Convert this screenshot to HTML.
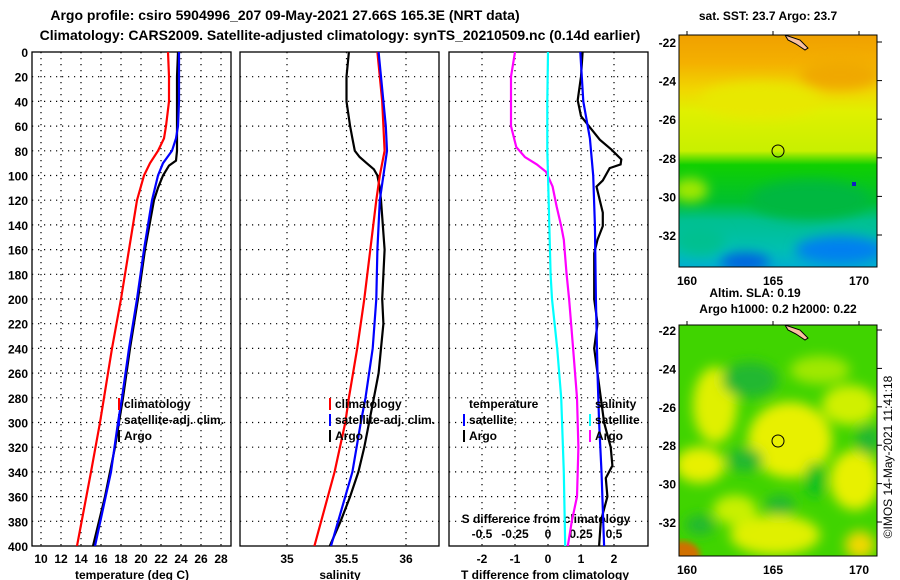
<!DOCTYPE html>
<html><head><meta charset="utf-8"><style>
html,body{margin:0;padding:0;background:#fff}
svg{display:block;font-family:"Liberation Sans",sans-serif;font-weight:bold}
</style></head><body>
<svg id="chart" width="900" height="580" viewBox="0 0 900 580">
<defs>
<filter id="blur4" x="-20%" y="-20%" width="140%" height="140%"><feGaussianBlur stdDeviation="6"/></filter>
<filter id="blur2"><feGaussianBlur stdDeviation="3"/></filter>
<linearGradient id="sstGrad" x1="0" y1="0" x2="0" y2="1">
<stop offset="0" stop-color="#f0a000"/><stop offset="0.12" stop-color="#f4b000"/>
<stop offset="0.24" stop-color="#f0d800"/><stop offset="0.33" stop-color="#e0f000"/>
<stop offset="0.50" stop-color="#c8f000"/><stop offset="0.56" stop-color="#10d000"/>
<stop offset="0.72" stop-color="#00c030"/><stop offset="0.80" stop-color="#00c090"/>
<stop offset="0.92" stop-color="#00c0b0"/><stop offset="1" stop-color="#00b0d0"/>
</linearGradient>
<clipPath id="clipMap1"><rect x="679" y="35" width="198" height="232"/></clipPath>
<clipPath id="clipMap2"><rect x="679" y="325" width="198" height="231"/></clipPath>
<clipPath id="clipP1"><rect x="32" y="52" width="199" height="494"/></clipPath>
<clipPath id="clipP2"><rect x="240" y="52" width="199" height="494"/></clipPath>
<clipPath id="clipP3"><rect x="449" y="52" width="199" height="494"/></clipPath>
</defs>
<text x="285" y="20" font-size="14" text-anchor="middle">Argo profile: csiro 5904996_207 09-May-2021 27.66S 165.3E (NRT data)</text>
<text x="340" y="40" font-size="14" text-anchor="middle">Climatology: CARS2009. Satellite-adjusted climatology: synTS_20210509.nc (0.14d earlier)</text>
<g id="grids"></g>
<g id="axes"></g>
<g id="series"></g>
<g id="legends" font-size="12"></g>

<!-- map 1 -->
<g>
<g clip-path="url(#clipMap1)">
<rect x="679" y="35" width="198" height="232" fill="url(#sstGrad)"/>
<g filter="url(#blur4)">
<ellipse cx="690" cy="190" rx="18" ry="12" fill="#a0e800"/>
<ellipse cx="760" cy="100" rx="60" ry="18" fill="#e8e800"/>
<ellipse cx="840" cy="75" rx="40" ry="15" fill="#f0a800"/>
<ellipse cx="810" cy="200" rx="60" ry="20" fill="#00b840"/>
<ellipse cx="840" cy="250" rx="45" ry="14" fill="#0080f0"/>
<ellipse cx="745" cy="262" rx="25" ry="9" fill="#0060e0"/>
<ellipse cx="700" cy="240" rx="25" ry="15" fill="#00c090"/>
</g>
<rect x="852" y="182" width="4" height="4" fill="#1020c0"/>
<path d="M785,35 L800,40 L808,48 L805,50 L796,44 L788,40Z" fill="#f8c0a0" stroke="#000" stroke-width="1"/>
</g>
<rect x="679" y="35" width="198" height="232" fill="none" stroke="#000"/>
<circle cx="778" cy="151" r="6" fill="none" stroke="#000"/>
<text x="768" y="20" font-size="12" text-anchor="middle">sat. SST: 23.7 Argo: 23.7</text>
</g>
<!-- map 2 -->
<g>
<g clip-path="url(#clipMap2)">
<rect x="679" y="325" width="198" height="231" fill="#40d400"/>
<g filter="url(#blur4)">
<ellipse cx="715" cy="405" rx="22" ry="38" fill="#e0f000"/>
<ellipse cx="790" cy="440" rx="42" ry="38" fill="#e8f000"/>
<ellipse cx="700" cy="465" rx="25" ry="18" fill="#e8f000"/>
<ellipse cx="855" cy="480" rx="25" ry="30" fill="#e8f000"/>
<ellipse cx="775" cy="535" rx="45" ry="20" fill="#e0f000"/>
<ellipse cx="850" cy="405" rx="28" ry="20" fill="#d0f000"/>
<ellipse cx="735" cy="510" rx="22" ry="15" fill="#c8f000"/>
<ellipse cx="860" cy="545" rx="15" ry="14" fill="#f0d800"/>
<ellipse cx="820" cy="370" rx="30" ry="14" fill="#a0e800"/>
<ellipse cx="750" cy="380" rx="28" ry="18" fill="#20b830"/>
<ellipse cx="745" cy="460" rx="18" ry="12" fill="#20b830"/>
<ellipse cx="815" cy="480" rx="10" ry="18" fill="#10c020"/>
<ellipse cx="868" cy="440" rx="12" ry="15" fill="#20b830"/>
<ellipse cx="780" cy="505" rx="15" ry="10" fill="#20b830"/>
<ellipse cx="700" cy="525" rx="15" ry="10" fill="#20b830"/>
</g>
<ellipse cx="682" cy="555" rx="18" ry="14" fill="#d07000" filter="url(#blur2)"/>
<path d="M785,325 L800,330 L808,338 L805,340 L796,334 L788,330Z" fill="#f8c0a0" stroke="#000" stroke-width="1"/>
</g>
<rect x="679" y="325" width="198" height="231" fill="none" stroke="#000"/>
<circle cx="778" cy="441" r="6" fill="none" stroke="#000"/>
<text x="755" y="297" font-size="12" text-anchor="middle">Altim. SLA: 0.19</text>
<text x="778" y="313" font-size="12" text-anchor="middle">Argo h1000: 0.2 h2000: 0.22</text>
</g>
<text transform="translate(892,457) rotate(-90)" font-size="12" font-weight="normal" text-anchor="middle">©IMOS 14-May-2021 11:41:18</text>
<g id="mapaxes" font-size="12"></g>
</svg>
<script>
// ---- data ----
const depthTicks = [0,20,40,60,80,100,120,140,160,180,200,220,240,260,280,300,320,340,360,380,400];
const tempTicks = [10,12,14,16,18,20,22,24,26,28];
const salTicks = [35,35.5,36];
const tdiffTicks = [-2,-1,0,1,2];
const sdiffTicks = [-0.5,-0.25,0,0.25,0.5];
const latTicks = [-22,-24,-26,-28,-30,-32];
const lonTicks = [160,165,170];

const climTDepth = [0,20,40,60,70,80,90,100,120,160,200,240,280,300,340,400];
const climTVal = [22.7,22.8,22.8,22.5,22.3,21.7,20.9,20.3,19.6,18.8,18.0,17.1,16.3,15.9,15.0,13.6];
const satTDepth = [0,20,40,60,70,80,90,100,120,160,200,240,280,300,340,400];
const satTVal = [23.8,23.8,23.8,23.7,23.5,23.1,22.2,21.7,21.1,20.3,19.6,18.8,18.1,17.7,17.0,15.4];
const argoTDepth = [0,20,40,60,80,88,92,96,100,110,120,160,200,240,280,300,320,340,360,380,400];
const argoTVal = [23.7,23.6,23.6,23.6,23.6,23.5,22.8,22.5,22.2,21.7,21.3,20.4,19.7,18.9,18.2,17.8,17.4,16.9,16.4,15.8,15.2];

const climSDepth = [0,20,40,60,80,100,120,160,200,240,280,300,340,400];
const climSVal = [35.76,35.78,35.80,35.81,35.82,35.78,35.75,35.70,35.65,35.59,35.52,35.49,35.40,35.23];
const satSDepth = [0,20,40,60,80,100,120,160,200,240,280,300,340,400];
const satSVal = [35.77,35.79,35.81,35.83,35.84,35.81,35.78,35.76,35.75,35.72,35.66,35.62,35.55,35.37];
const argoSDepth = [0,20,40,60,70,80,85,90,95,100,110,120,160,200,220,240,260,280,300,320,340,360,380,400];
const argoSVal = [35.52,35.50,35.50,35.53,35.55,35.57,35.61,35.67,35.73,35.76,35.78,35.79,35.82,35.80,35.81,35.79,35.77,35.73,35.69,35.65,35.60,35.53,35.45,35.36];

const satDTDepth = [0,40,70,100,140,200,260,300,340,400];
const satDTVal = [0.98,1.07,1.27,1.37,1.42,1.45,1.50,1.55,1.62,1.70];
const argoDTDepth = [0,20,39,52,71,79,87,91,94,104,109,120,130,141,152,163,200,220,240,260,280,300,320,335,345,360,380,400];
const argoDTVal = [1.05,1.0,0.9,1.0,1.57,1.92,2.22,2.2,1.87,1.66,1.47,1.57,1.66,1.66,1.5,1.4,1.4,1.5,1.4,1.5,1.6,1.7,1.9,1.95,1.75,1.8,1.6,1.55];
const argoDSDepth = [0,20,40,60,77,85,91,97,109,125,141,152,179,200,240,280,320,360,380,400];
const argoDSVal = [-0.25,-0.28,-0.28,-0.28,-0.24,-0.175,-0.085,-0.015,0.035,0.065,0.10,0.12,0.14,0.16,0.19,0.22,0.23,0.22,0.18,0.15];
const satDSDepth = [0,40,80,100,140,180,200,240,280,340,400];
const satDSVal = [0.0,-0.005,-0.005,0.0,0.01,0.02,0.03,0.07,0.10,0.12,0.13];

// ---- axes functions ----
const Y0 = 52, PH = 494;
const yD = d => Y0 + d / 400 * PH;
const xT = t => 41 + (t - 10) * 10;
const xS = s => 287 + (s - 35) * 119;
const xDT = v => 548 + v * 33;
const xDS = v => 548 + v * 132;
const xLon = l => 687 + (l - 160) * 17.2;
const yLat1 = l => 42 + (-22 - l) * 19.3;
const yLat2 = l => 330 + (-22 - l) * 19.2;

const NS = 'http://www.w3.org/2000/svg';
function mk(tag, attrs, parent, txt) {
  const e = document.createElementNS(NS, tag);
  for (const k in attrs) e.setAttribute(k, attrs[k]);
  if (txt !== undefined) e.textContent = txt;
  parent.appendChild(e);
  return e;
}
const grids = document.getElementById('grids');
const axes = document.getElementById('axes');
const series = document.getElementById('series');
const legends = document.getElementById('legends');
const mapaxes = document.getElementById('mapaxes');

const panels = [
  {x: 32, name: 'temperature-panel', ticks: tempTicks, fx: xT, lab: 'temperature (deg C)', labx: 132, fmt: v => v},
  {x: 240, name: 'salinity-panel', ticks: salTicks, fx: xS, lab: 'salinity', labx: 340, fmt: v => v},
  {x: 449, name: 'difference-panel', ticks: tdiffTicks, fx: xDT, lab: 'T difference from climatology', labx: 545, fmt: v => v}
];
panels.forEach(p => {
  const g = mk('g', {}, grids);
  
  
  depthTicks.forEach(d => {
    if (d === 0 || d === 400) return;
    mk('line', {x1: p.x, x2: p.x + 199, y1: yD(d), y2: yD(d), stroke: '#000', 'stroke-width': 1.2, 'stroke-dasharray': '1.2,4.8'}, g);
  });
  p.ticks.forEach(t => {
    mk('line', {x1: p.fx(t), x2: p.fx(t), y1: Y0, y2: Y0 + PH, stroke: '#000', 'stroke-width': 1.2, 'stroke-dasharray': '1.2,4.8'}, g);
    const tl = mk('text', {x: p.fx(t), y: 563, 'font-size': 12, 'text-anchor': 'middle'}, axes, p.fmt(t));
    
    
  });
  const fr = mk('rect', {x: p.x, y: Y0, width: 199, height: PH, fill: 'none', stroke: '#000', 'stroke-width': 1.3}, axes);
  
  
  const xl = mk('text', {x: p.labx, y: 579, 'font-size': 12, 'text-anchor': 'middle'}, axes, p.lab);
  
  
});
depthTicks.forEach(d => {
  const t = mk('text', {x: 28, y: yD(d) + 5, 'font-size': 12, 'text-anchor': 'end'}, axes, d);
  
  
});
sdiffTicks.forEach(v => {
  const t = mk('text', {x: xDS(v), y: 538, 'font-size': 12, 'text-anchor': 'middle'}, axes, v);
  
  
});
const sdt = mk('text', {x: 546, y: 523, 'font-size': 12, 'text-anchor': 'middle'}, axes, 'S difference from climatology');



function line(depths, vals, fx, color, clip, name) {
  const pts = depths.map((d, i) => fx(vals[i]).toFixed(1) + ',' + yD(d).toFixed(1)).join(' ');
  const el = mk('polyline', {points: pts, fill: 'none', stroke: color, 'stroke-width': 2.2, 'clip-path': 'url(#' + clip + ')'}, series);
  
  
}
line(climTDepth, climTVal, xT, '#ff0000', 'clipP1', 'climatology-temperature-line');
line(argoTDepth, argoTVal, xT, '#000000', 'clipP1', 'argo-temperature-line');
line(satTDepth, satTVal, xT, '#0000ff', 'clipP1', 'satellite-temperature-line');
line(argoSDepth, argoSVal, xS, '#000000', 'clipP2', 'argo-salinity-line');
line(climSDepth, climSVal, xS, '#ff0000', 'clipP2', 'climatology-salinity-line');
line(satSDepth, satSVal, xS, '#0000ff', 'clipP2', 'satellite-salinity-line');
line(argoDSDepth, argoDSVal, xDS, '#ff00ff', 'clipP3', 'argo-salinity-diff-line');
line(satDSDepth, satDSVal, xDS, '#00ffff', 'clipP3', 'satellite-salinity-diff-line');
line(argoDTDepth, argoDTVal, xDT, '#000000', 'clipP3', 'argo-temperature-diff-line');
line(satDTDepth, satDTVal, xDT, '#0000ff', 'clipP3', 'satellite-temperature-diff-line');

function legend(x, y, color, text) {
  const g = mk('g', {}, legends);
  
  
  if (color) mk('rect', {x: x - 6, y: y - 10, width: 2, height: 12, fill: color}, g);
  mk('text', {x: x, y: y}, g, text);
}
legend(124, 408, '#ff0000', 'climatology');
legend(124, 424, '#0000ff', 'satellite-adj. clim.');
legend(124, 440, '#000000', 'Argo');
legend(335, 408, '#ff0000', 'climatology');
legend(335, 424, '#0000ff', 'satellite-adj. clim.');
legend(335, 440, '#000000', 'Argo');
legend(469, 408, null, 'temperature');
legend(469, 424, '#0000ff', 'satellite');
legend(469, 440, '#000000', 'Argo');
legend(595, 408, null, 'salinity');
legend(595, 424, '#00ffff', 'satellite');
legend(595, 440, '#ff00ff', 'Argo');

// map axes
[[yLat1, 35, 267], [yLat2, 325, 556]].forEach(([fy, top, bot], mi) => {
  latTicks.forEach(l => {
    const t = mk('text', {x: 676, y: fy(l) + 5, 'text-anchor': 'end'}, mapaxes, l);
    
    
    mk('line', {x1: 877, x2: 882, y1: fy(l), y2: fy(l), stroke: '#000'}, mapaxes);
  });
  lonTicks.forEach(l => {
    const t = mk('text', {x: xLon(l), y: bot + 18, 'text-anchor': 'middle'}, mapaxes, l);
    
    
    mk('line', {x1: xLon(l), x2: xLon(l), y1: top - 4, y2: top, stroke: '#000'}, mapaxes);
  });
});
</script>
</body></html>
